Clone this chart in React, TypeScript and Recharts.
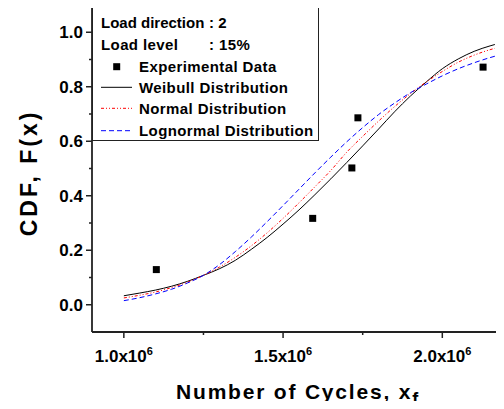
import React from "react";
import { ComposedChart, Line, Scatter, XAxis, YAxis, Legend } from "recharts";

const FONT = '"Liberation Sans", Arial, Helvetica, sans-serif';

// fitted CDF curves, sampled along the cycle axis
const CYCLES = [
  1000000, 1050000, 1100000, 1150000, 1200000, 1250000, 1300000, 1350000,
  1400000, 1450000, 1500000, 1550000, 1600000, 1650000, 1700000, 1750000,
  1800000, 1850000, 1900000, 1950000, 2000000, 2050000, 2100000, 2150000,
  2165000,
];
const WEIBULL = [
  0.033, 0.043, 0.054, 0.068, 0.086, 0.108, 0.132, 0.163, 0.203, 0.247,
  0.296, 0.348, 0.404, 0.462, 0.522, 0.583, 0.645, 0.708, 0.766, 0.818,
  0.866, 0.902, 0.93, 0.95, 0.955,
];
const NORMAL = [
  0.025, 0.035, 0.047, 0.063, 0.083, 0.108, 0.138, 0.174, 0.216, 0.264,
  0.317, 0.374, 0.433, 0.493, 0.56, 0.618, 0.674, 0.727, 0.775, 0.818,
  0.856, 0.89, 0.916, 0.936, 0.941,
];
const LOGNORMAL = [
  0.015, 0.026, 0.04, 0.057, 0.08, 0.108, 0.147, 0.195, 0.248, 0.305,
  0.364, 0.424, 0.484, 0.542, 0.598, 0.65, 0.698, 0.74, 0.778, 0.81,
  0.84, 0.866, 0.888, 0.907, 0.912,
];

// experimental failure points
const EXP_CYCLES = [1102000, 1593000, 1716000, 1735000, 2128000];
const EXP_CDF = [0.129, 0.317, 0.502, 0.686, 0.872];

const X_TICKS = [1000000, 1250000, 1500000, 1750000, 2000000];
const Y_TICKS = [0, 0.1, 0.2, 0.3, 0.4, 0.5, 0.6, 0.7, 0.8, 0.9, 1.0];

const SERIES = [
  { name: "Weibull Distribution", values: WEIBULL, color: "#000000", dash: undefined },
  { name: "Normal Distribution", values: NORMAL, color: "#ff0000", dash: "3 2 1 2 1 2" },
  { name: "Lognormal Distribution", values: LOGNORMAL, color: "#0000ff", dash: "5 3" },
];

const expData = EXP_CYCLES.map((x, i) => ({ x, y: EXP_CDF[i] }));
const curveData = (values: number[]) => CYCLES.map((x, i) => ({ x, y: values[i] }));

const XTick = ({ x, y, payload }: any) => {
  const v = payload.value;
  const major = v % 500000 === 0;
  return (
    <g>
      <line x1={x} x2={x} y1={y} y2={y + (major ? 6 : 3)} stroke="#222" strokeWidth={1.5} />
      {major && (
        <text x={x} y={y + 30} textAnchor="middle" fontFamily={FONT} fontWeight="bold" fontSize={17} fill="#000">
          {(v / 1e6).toFixed(1)}x10
          <tspan fontSize={11} dy={-7}>6</tspan>
        </text>
      )}
    </g>
  );
};

const YTick = ({ x, y, payload }: any) => {
  const v = payload.value;
  const major = Math.round(v * 10) % 2 === 0;
  return (
    <g>
      <line x1={x - (major ? 6 : 3)} x2={x} y1={y} y2={y} stroke="#222" strokeWidth={1.5} />
      {major && (
        <text x={x - 9} y={y + 6} textAnchor="end" fontFamily={FONT} fontWeight="bold" fontSize={17} fill="#000">
          {v.toFixed(1)}
        </text>
      )}
    </g>
  );
};

const Square = ({ cx, cy }: any) => <rect x={cx - 3.5} y={cy - 3.5} width={7} height={7} fill="#000" />;

const LegendBox = () => {
  // text baselines, measured from the top of the box
  const rows = [23, 44.6, 67, 87.6, 108.6, 131];
  const textProps = {
    fontFamily: FONT,
    fontWeight: "bold" as const,
    fontSize: 15,
    fill: "#000",
    letterSpacing: 0.4,
  };
  return (
    <div style={{ width: 227, height: 136, border: "1px solid #222", boxSizing: "border-box", background: "#fff" }}>
      <svg width={225} height={134} style={{ display: "block", overflow: "visible" }}>
        <g transform="translate(-1,-1)">
          <text {...textProps} letterSpacing={0} y={rows[0]}>
            <tspan x={9}>Load direction</tspan>
            <tspan x={117}>: 2</tspan>
          </text>
          <text {...textProps} y={rows[1]}>
            <tspan x={9}>Load level</tspan>
            <tspan x={117}>: 15%</tspan>
          </text>
          <rect x={21.2} y={rows[2] - 8.8} width={7} height={7} fill="#000" />
          <text {...textProps} x={47} y={rows[2]}>Experimental Data</text>
          {SERIES.map((s, i) => (
            <g key={s.name}>
              <line x1={9} x2={40} y1={rows[i + 3] - 5.3} y2={rows[i + 3] - 5.3} stroke={s.color} strokeWidth={1} strokeDasharray={s.dash} />
              <text {...textProps} x={47} y={rows[i + 3]}>{s.name}</text>
            </g>
          ))}
        </g>
      </svg>
    </div>
  );
};

export default function App() {
  return (
    <div style={{ position: "relative", width: 504, height: 409, margin: -8, overflow: "hidden", background: "#fff" }}>
      <ComposedChart width={520} height={409} margin={{ top: 5, right: 14, bottom: 0, left: 0 }}>
        <XAxis
          dataKey="x"
          type="number"
          domain={[900000, 2200000]}
          allowDataOverflow
          ticks={X_TICKS}
          interval={0}
          height={77}
          tickSize={0}
          tickMargin={0}
          tick={<XTick />}
          axisLine={{ stroke: "#222", strokeWidth: 1.8 }}
          label={{
            content: () => (
              <text x={298} y={399} textAnchor="middle" fontFamily={FONT} fontWeight="bold" fontSize={21} letterSpacing={1.8} fill="#000">
                Number of Cycles, x
                <tspan fontSize={18} dy={6}>f</tspan>
              </text>
            ),
          }}
        />
        <XAxis
          xAxisId="top"
          orientation="top"
          type="number"
          domain={[900000, 2200000]}
          height={0}
          tick={false}
          tickLine={false}
          axisLine={{ stroke: "#222", strokeWidth: 1.8 }}
        />
        <YAxis
          dataKey="y"
          type="number"
          domain={[-0.1, 1.1]}
          allowDataOverflow
          ticks={Y_TICKS}
          interval={0}
          width={92}
          tickSize={0}
          tickMargin={0}
          tick={<YTick />}
          axisLine={{ stroke: "#222", strokeWidth: 1.8 }}
          label={{
            content: () => (
              <text
                x={36.5}
                y={173}
                transform="rotate(-90, 36.5, 173)"
                textAnchor="middle"
                fontFamily={FONT}
                fontWeight="bold"
                fontSize={23}
                letterSpacing={3}
                fill="#000"
              >
                CDF, F(x)
              </text>
            ),
          }}
        />
        {SERIES.map((s) => (
          <Line
            key={s.name}
            name={s.name}
            data={curveData(s.values)}
            dataKey="y"
            type="monotone"
            stroke={s.color}
            strokeWidth={1}
            strokeDasharray={s.dash}
            dot={false}
            activeDot={false}
            isAnimationActive={false}
          />
        ))}
        <Scatter name="Experimental Data" data={expData} dataKey="y" shape={<Square />} isAnimationActive={false} />
        <Legend
          layout="vertical"
          align="center"
          verticalAlign="middle"
          wrapperStyle={{ left: 92, top: 5, width: 227, height: 136 }}
          content={() => <LegendBox />}
        />
      </ComposedChart>
    </div>
  );
}
